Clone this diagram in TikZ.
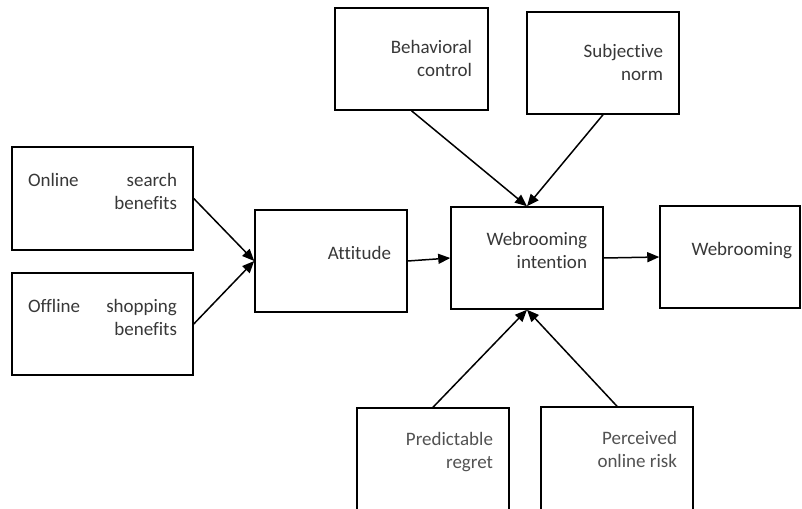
\documentclass[tikz,border=0pt]{standalone}
\usepackage{fontspec}
\setmainfont{Carlito}[Ligatures=NoCommon]
\usetikzlibrary{arrows.meta}
\newcommand\boxtxt[4]{\parbox[c][#2pt][t]{#1pt}{\raggedleft\fontsize{19}{23}\selectfont\rule{0pt}{#3pt}#4}}
\tikzset{
  box/.style={draw=black, line width=1.5pt, inner sep=0pt, text=black!78, fill=white},
  conn/.style={line width=1.5pt, -{Triangle[length=12pt,width=10pt]}},
}
\begin{document}
\begin{tikzpicture}[x=1pt,y=-1pt]
\clip (0,0) rectangle (802,508);
\fill[white] (0,0) rectangle (802,508);
\node[box, minimum width=181pt] (osb) at (102.5,198.5) {\boxtxt{149}{103}{39}{Online\hfill search\\benefits}};
\node[box, minimum width=181pt] (osh) at (102.5,324) {\boxtxt{149}{102}{39}{Offline\hfill shopping\\benefits}};
\node[box, minimum width=152pt] (att) at (331,261) {\boxtxt{120}{102}{49}{Attitude}};
\node[box, minimum width=153pt] (bc) at (411.5,59) {\boxtxt{121}{102}{46}{Behavioral\\control}};
\node[box, minimum width=152pt] (sn) at (603,63) {\boxtxt{120}{102}{46}{Subjective\\norm}};
\node[box, minimum width=152pt] (wi) at (527,258) {\boxtxt{120}{102}{38}{Webrooming\\intention}};
\node[box, minimum width=140pt] (web) at (730,257) {\boxtxt{124}{102}{49}{Webrooming}};
\node[box, minimum width=152pt, text=black!68] (pr) at (433,468) {\boxtxt{120}{120}{37}{Predictable\\regret}};
\node[box, minimum width=152pt, text=black!68] (por) at (617,467) {\boxtxt{120}{120}{37}{Perceived\\online risk}};
\draw[conn] (osb.east) -- (att.west);
\draw[conn] (osh.east) -- (att.west);
\draw[conn] (att.east) -- (wi.west);
\draw[conn] (wi.east) -- (web.west);
\draw[conn] (bc.south) -- (wi.north);
\draw[conn] (sn.south) -- (wi.north);
\draw[conn] (pr.north) -- (wi.south);
\draw[conn] (por.north) -- (wi.south);
\end{tikzpicture}
\end{document}
